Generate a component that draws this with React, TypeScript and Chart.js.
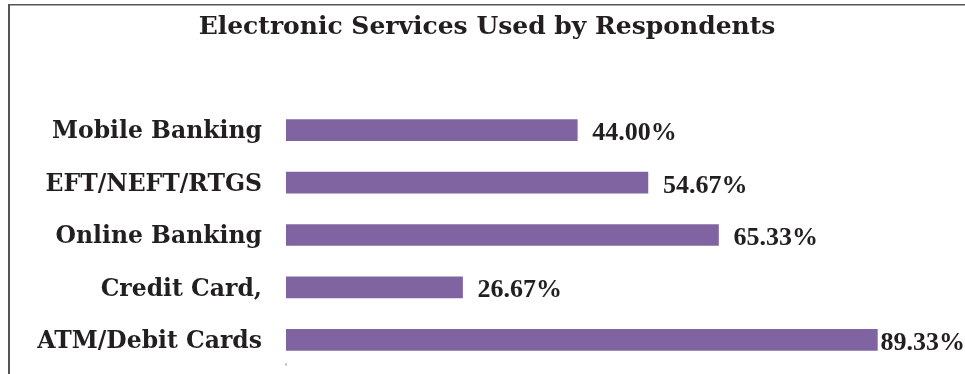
import { useEffect, useRef } from "react";
import { Chart, registerables } from "chart.js";

Chart.register(...registerables);

const TITLE = "Electronic Services Used by Respondents";
const categories = ["Mobile Banking", "EFT/NEFT/RTGS", "Online Banking", "Credit Card,", "ATM/Debit Cards"];
const values = [44.0, 54.67, 65.33, 26.67, 89.33];
const valueLabels = ["44.00%", "54.67%", "65.33%", "26.67%", "89.33%"];

const TEXT = "#231f20";
const BAR = "#8064a2";

const decorPlugin = {
  id: "decor",
  beforeDraw(chart: any) {
    const ctx = chart.ctx;
    ctx.save();
    ctx.fillStyle = "#ffffff";
    ctx.fillRect(0, 0, chart.width, chart.height);
    ctx.fillStyle = "#555555";
    ctx.fillRect(8, 4, 2, chart.height - 4);
    ctx.fillRect(8, 4, chart.width - 8, 1.5);
    ctx.font = "bold 25px 'DejaVu Serif'";
    ctx.fillStyle = TEXT;
    ctx.textAlign = "center";
    ctx.textBaseline = "alphabetic";
    ctx.fillText(TITLE, 487, 34);
    ctx.restore();
  },
  afterDatasetsDraw(chart: any) {
    const ctx = chart.ctx;
    const meta = chart.getDatasetMeta(0);
    ctx.save();
    ctx.font = "bold 26px 'Liberation Serif'";
    ctx.fillStyle = TEXT;
    ctx.textAlign = "left";
    ctx.textBaseline = "alphabetic";
    meta.data.forEach((bar: any, i: number) => {
      const label = valueLabels[i];
      const w = ctx.measureText(label).width;
      let x = bar.x + 15;
      if (x + w > chart.width) x = chart.width - w;
      ctx.fillText(label, x, bar.y + 10);
    });
    ctx.fillStyle = "#999999";
    ctx.fillRect(chart.chartArea.left - 0.5, chart.chartArea.bottom - 3, 1, 3);
    ctx.restore();
  },
};

export default function App() {
  const ref = useRef<HTMLCanvasElement | null>(null);
  useEffect(() => {
    if (!ref.current) return;
    const chart = new Chart(ref.current, {
      type: "bar",
      data: {
        labels: categories,
        datasets: [
          {
            data: values,
            backgroundColor: BAR,
            borderWidth: 0,
            barThickness: 21,
          },
        ],
      },
      options: {
        indexAxis: "y",
        responsive: false,
        animation: false,
        layout: { padding: { top: 104, bottom: 8, right: 17, left: 0 } },
        plugins: {
          legend: { display: false },
          title: { display: false },
          tooltip: { enabled: false },
        },
        scales: {
          x: { display: false, min: 0, max: 100 },
          y: {
            grid: { display: false, drawTicks: false },
            border: { display: false },
            afterFit: (s: any) => {
              s.width = 286;
              s.paddingTop = 0;
              s.paddingBottom = 0;
            },
            ticks: {
              color: TEXT,
              padding: 24,
              labelOffset: 2,
              font: { family: "'DejaVu Serif'", weight: "bold", size: 23.5 },
            },
          },
        },
      },
      plugins: [decorPlugin],
    });
    return () => chart.destroy();
  }, []);
  return (
    <div style={{ position: "fixed", left: 0, top: 0, width: 965, height: 374, background: "#fff" }}>
      <canvas ref={ref} width={965} height={374} style={{ display: "block" }} />
    </div>
  );
}
